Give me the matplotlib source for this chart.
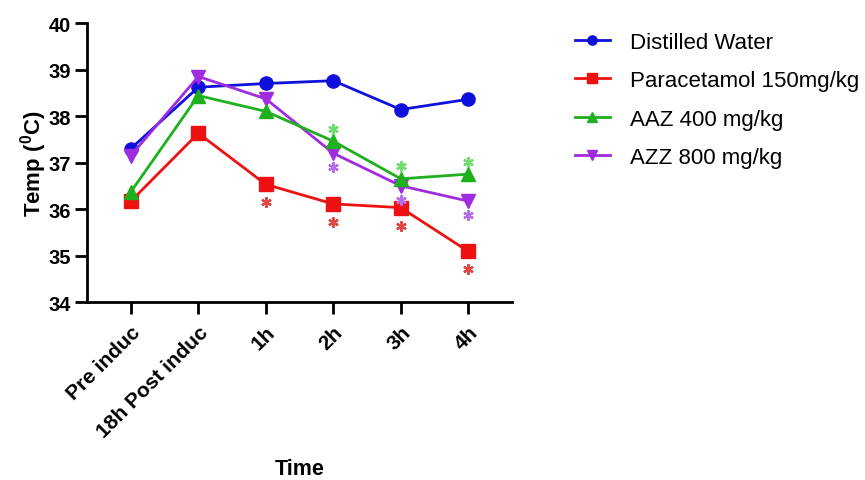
import matplotlib
matplotlib.use('Agg')
import matplotlib.pyplot as plt
from matplotlib.transforms import offset_copy

plt.rcParams['font.family'] = ['Liberation Sans', 'DejaVu Sans']
plt.rcParams['mathtext.fontset'] = 'custom'
plt.rcParams['mathtext.rm'] = 'Liberation Sans:bold'
plt.rcParams['mathtext.bf'] = 'Liberation Sans:bold'

zeiten = ['Pre induc', '18h Post induc', '1h', '2h', '3h', '4h']

wasser = [37.30, 38.62, 38.70, 38.76, 38.14, 38.36]
paracetamol = [36.17, 37.63, 36.53, 36.11, 36.03, 35.09]
aaz_400 = [36.37, 38.44, 38.10, 37.46, 36.65, 36.75]
azz_800 = [37.15, 38.85, 38.37, 37.20, 36.50, 36.17]

# Signifikanz-Sterne: Index der Zeitpunkte
stern_para = [2, 3, 4, 5]
stern_aaz = [3, 4, 5]
stern_azz = [3, 4, 5]

fig = plt.figure(figsize=(8.65, 4.81), dpi=100)
ax = fig.add_axes([0.1006, 0.37, 0.4914, 0.58])

x = list(range(len(zeiten)))
ax.plot(x, wasser, marker='o', color='#1010dc', lw=2, ms=9.5, label='Distilled Water', zorder=3)
ax.plot(x, paracetamol, marker='s', color='#ee1111', lw=2, ms=10, label='Paracetamol 150mg/kg', zorder=3)
ax.plot(x, aaz_400, marker='^', color='#1eb01e', lw=2, ms=10, label='AAZ 400 mg/kg', zorder=4)
ax.plot(x, azz_800, marker='v', color='#a02ce0', lw=2, ms=10.5, label='AZZ 800 mg/kg', zorder=3)


def sterne(werte, indizes, farbe, versatz):
    trans = offset_copy(ax.transData, fig=fig, x=0, y=versatz, units='points')
    xs = [x[i] for i in indizes]
    ys = [werte[i] for i in indizes]
    ax.plot(xs, ys, ls='none', marker=(6, 2, 0), ms=7.5, mew=1.6, color=farbe,
            transform=trans, zorder=5)


sterne(paracetamol, stern_para, '#e04848', -13)
sterne(aaz_400, stern_aaz, '#70dc70', 9)
sterne(azz_800, stern_azz, '#b46ee6', -10)

ax.set_xlim(-0.65, 5.65)
ax.set_ylim(34, 40)
ax.set_yticks(range(34, 41))
ax.set_xticks(x)
ax.set_xticklabels(zeiten, rotation=45, ha='right', rotation_mode='anchor')

for s in ['top', 'right']:
    ax.spines[s].set_visible(False)
for s in ['left', 'bottom']:
    ax.spines[s].set_linewidth(2)
ax.tick_params(width=2, length=8.5, labelsize=15)
ax.tick_params(axis='x', pad=6)
ax.tick_params(axis='y', labelsize=14.5, pad=3)
for lab in ax.get_xticklabels() + ax.get_yticklabels():
    lab.set_fontweight('bold')

ax.set_ylabel(r'Temp ($^{0}$C)', fontsize=16, fontweight='bold', labelpad=0)
ax.set_xlabel('Time', fontsize=15.5, fontweight='bold')
ax.xaxis.set_label_coords(0.5, -0.56)

ax.legend(loc='upper left', bbox_to_anchor=(1.1, 1.04), frameon=False, fontsize=16,
          handlelength=1.6, labelspacing=0.78, handletextpad=0.9, markerscale=0.7)

plt.savefig('out.png', dpi=100)
